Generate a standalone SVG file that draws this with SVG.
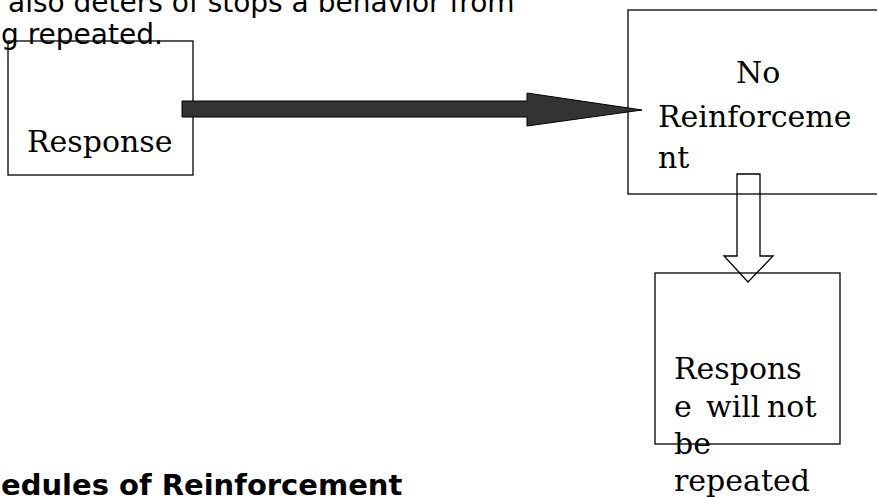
<svg xmlns="http://www.w3.org/2000/svg" width="877" height="497" viewBox="0 0 877 497">
  <style>
    .box { fill: none; stroke: #000; stroke-width: 1.3; }
    .lbl { font-family: "DejaVu Serif", serif; font-size: 30px; fill: #000; }
    .body { font-family: "DejaVu Sans", sans-serif; font-size: 28px; fill: #000; }
    .head { font-family: "DejaVu Sans", sans-serif; font-size: 29px; font-weight: bold; fill: #000; }
    .solid { fill: #333333; stroke: #000; stroke-width: 1; }
    .hollow { fill: none; stroke: #000; stroke-width: 1.3; }
  </style>
  <rect width="877" height="497" fill="#fff"/>
  <g id="page-text">
    <text class="body" x="8" y="12">also deters of stops a behavior from</text>
    <text class="body" x="1" y="44">g repeated.</text>
    <text class="head" x="1" y="495">edules of Reinforcement</text>
  </g>
  <g id="node-response">
    <rect class="box" x="8" y="41" width="185" height="134"/>
    <text class="lbl" x="27" y="152">Response</text>
  </g>
  <g id="node-no-reinforcement">
    <rect class="box" x="628" y="10" width="280" height="184"/>
    <text class="lbl" x="736" y="83">No</text>
    <text class="lbl" x="658" y="127">Reinforceme</text>
    <text class="lbl" x="658" y="168">nt</text>
  </g>
  <g id="node-not-repeated">
    <rect class="box" x="655" y="273" width="185" height="171"/>
    <text class="lbl" x="674" y="379">Respons</text>
    <text class="lbl" y="417"><tspan x="674">e</tspan><tspan x="706">will</tspan><tspan x="767">not</tspan></text>
    <text class="lbl" x="674" y="454">be</text>
    <text class="lbl" x="674" y="491">repeated</text>
  </g>
  <g id="connectors">
    <polygon class="solid" points="182,101 527,101 527,93 642,110 527,126 527,117 182,117"/>
    <polygon class="hollow" points="737,174 760,174 760,256 773,256 748,282 724,256 737,256"/>
  </g>
</svg>
